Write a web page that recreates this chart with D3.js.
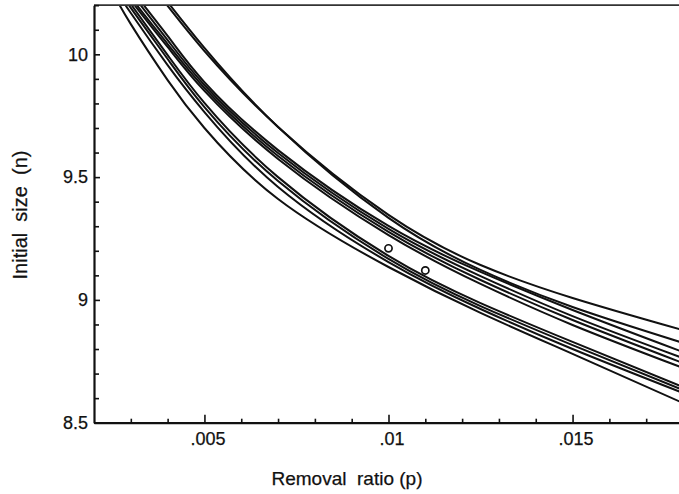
<!DOCTYPE html>
<html>
<head>
<meta charset="utf-8">
<script src="https://cdn.jsdelivr.net/npm/d3@7"></script>
<style>
  html, body { margin: 0; padding: 0; background: #fff; }
  svg { display: block; }
  text { font-family: "Liberation Sans", Arial, sans-serif; fill: #111; }
</style>
</head>
<body>
<svg id="chart" width="679" height="494"></svg>
<script>
// ---- data ----
const pValues = [0.0025, 0.003, 0.004, 0.005, 0.007, 0.01, 0.0125, 0.015, 0.018];
const curveA = [10.254, 10.123, 9.895, 9.700, 9.411, 9.134, 8.947, 8.780, 8.580];
const curveB = [10.282, 10.168, 9.956, 9.765, 9.460, 9.154, 8.963, 8.800, 8.621];
const curveC = [10.303, 10.189, 9.981, 9.785, 9.484, 9.167, 8.975, 8.816, 8.633];
const curveD = [10.319, 10.205, 9.997, 9.802, 9.500, 9.179, 8.987, 8.829, 8.645];
const curveE = [10.392, 10.270, 10.075, 9.887, 9.610, 9.301, 9.114, 8.959, 8.788];
const curveF = [10.376, 10.254, 10.058, 9.875, 9.598, 9.289, 9.097, 8.934, 8.763];
const curveG = [10.356, 10.233, 10.042, 9.863, 9.586, 9.277, 9.081, 8.918, 8.743];
const curveH = [10.343, 10.221, 10.030, 9.851, 9.574, 9.264, 9.065, 8.898, 8.723];
const curveI = [10.498, 10.388, 10.197, 10.013, 9.704, 9.346, 9.142, 9.008, 8.877];
const curveJ = [10.522, 10.408, 10.213, 10.026, 9.704, 9.334, 9.122, 8.971, 8.825];
const estimatesP = [0.01, 0.011];
const estimatesN = [9.21, 9.12];
const xMajorTicks = [0.005, 0.01, 0.015];
const xMajorLabels = [".005", ".01", ".015"];
const xMinorTicks = [0.003, 0.004, 0.006, 0.007, 0.008, 0.009, 0.011, 0.012, 0.013, 0.014, 0.016, 0.017];
const yMajorTicks = [8.5, 9, 9.5, 10];
const yMajorLabels = ["8.5", "9", "9.5", "10"];
const yMinorTicks = [8.6, 8.7, 8.8, 8.9, 9.1, 9.2, 9.3, 9.4, 9.6, 9.7, 9.8, 9.9, 10.1, 10.2];
const xTitle = "Removal  ratio (p)";
const yTitle = "Initial  size  (n)";

// ---- layout ----
const svg = d3.select("#chart");
const mLeft = 94, mRight = 683, mTop = 5.2, mBottom = 422.7;
const x = d3.scaleLinear().domain([0.002, 0.018]).range([mLeft, mRight]);
const y = d3.scaleLinear().domain([8.5, 10.2]).range([mBottom, mTop]);

const curves = [curveA, curveB, curveC, curveD, curveE, curveF, curveG, curveH, curveI, curveJ];

svg.append("defs").append("clipPath").attr("id", "plotClip")
  .append("rect").attr("x", mLeft).attr("y", mTop).attr("width", mRight - mLeft).attr("height", mBottom - mTop);

const line = d3.line()
  .x((d, i) => x(pValues[i]))
  .y(d => y(d))
  .curve(d3.curveNatural);

const plot = svg.append("g").attr("clip-path", "url(#plotClip)");
plot.selectAll("path.curve").data(curves).join("path")
  .attr("class", "curve")
  .attr("d", d => line(d))
  .attr("fill", "none")
  .attr("stroke", "#111")
  .attr("stroke-width", 2);

plot.selectAll("circle.est").data(estimatesP).join("circle")
  .attr("class", "est")
  .attr("cx", d => x(d))
  .attr("cy", (d, i) => y(estimatesN[i]))
  .attr("r", 3.6)
  .attr("fill", "#fff")
  .attr("stroke", "#111")
  .attr("stroke-width", 1.7);

// top border
svg.append("line")
  .attr("x1", mLeft).attr("x2", 679).attr("y1", mTop).attr("y2", mTop)
  .attr("stroke", "#333").attr("stroke-width", 1.8);

const labelStyle = g => g.selectAll(".tick text")
  .attr("font-size", 18)
  .attr("font-family", "'Liberation Sans', Arial, sans-serif")
  .attr("fill", "#111").attr("stroke", "#111").attr("stroke-width", 0.25);

// x axis: minor ticks
svg.append("g").attr("transform", `translate(0,${mBottom})`)
  .call(d3.axisBottom(x).tickValues(xMinorTicks).tickSize(-4).tickSizeOuter(0).tickFormat(""))
  .call(g => g.select(".domain").attr("stroke-width", 2.2).attr("stroke", "#111"))
  .call(g => g.selectAll(".tick line").attr("stroke-width", 1.6).attr("stroke", "#111"));
// x axis: major ticks + labels
svg.append("g").attr("transform", `translate(0,${mBottom})`)
  .call(d3.axisBottom(x).tickValues(xMajorTicks).tickSize(-8).tickSizeOuter(0).tickPadding(10)
    .tickFormat((d, i) => xMajorLabels[i]))
  .call(g => g.select(".domain").remove())
  .call(g => g.selectAll(".tick line").attr("stroke-width", 1.6).attr("stroke", "#111"))
  .call(labelStyle)
  .call(g => g.selectAll(".tick text").attr("dx", 3));

// y axis: minor ticks
svg.append("g").attr("transform", `translate(${mLeft},0)`)
  .call(d3.axisLeft(y).tickValues(yMinorTicks).tickSize(-5).tickSizeOuter(0).tickFormat(""))
  .call(g => g.select(".domain").attr("stroke-width", 2.2).attr("stroke", "#111"))
  .call(g => g.selectAll(".tick line").attr("stroke-width", 1.6).attr("stroke", "#111"));
// y axis: major ticks + labels
svg.append("g").attr("transform", `translate(${mLeft},0)`)
  .call(d3.axisLeft(y).tickValues(yMajorTicks).tickSize(-6).tickSizeOuter(0).tickPadding(6)
    .tickFormat((d, i) => yMajorLabels[i]))
  .call(g => g.select(".domain").remove())
  .call(g => g.selectAll(".tick line").attr("stroke-width", 1.6).attr("stroke", "#111"))
  .call(labelStyle);

// axis titles
svg.append("text")
  .attr("x", 347).attr("y", 485)
  .attr("text-anchor", "middle")
  .attr("font-size", 19)
  .attr("stroke", "#111").attr("stroke-width", 0.25)
  .style("white-space", "pre")
  .text(xTitle);

svg.append("text")
  .attr("transform", "translate(27,215) rotate(-90)")
  .attr("text-anchor", "middle")
  .attr("font-size", 20)
  .attr("stroke", "#111").attr("stroke-width", 0.25)
  .style("white-space", "pre")
  .text(yTitle);
</script>
</body>
</html>
